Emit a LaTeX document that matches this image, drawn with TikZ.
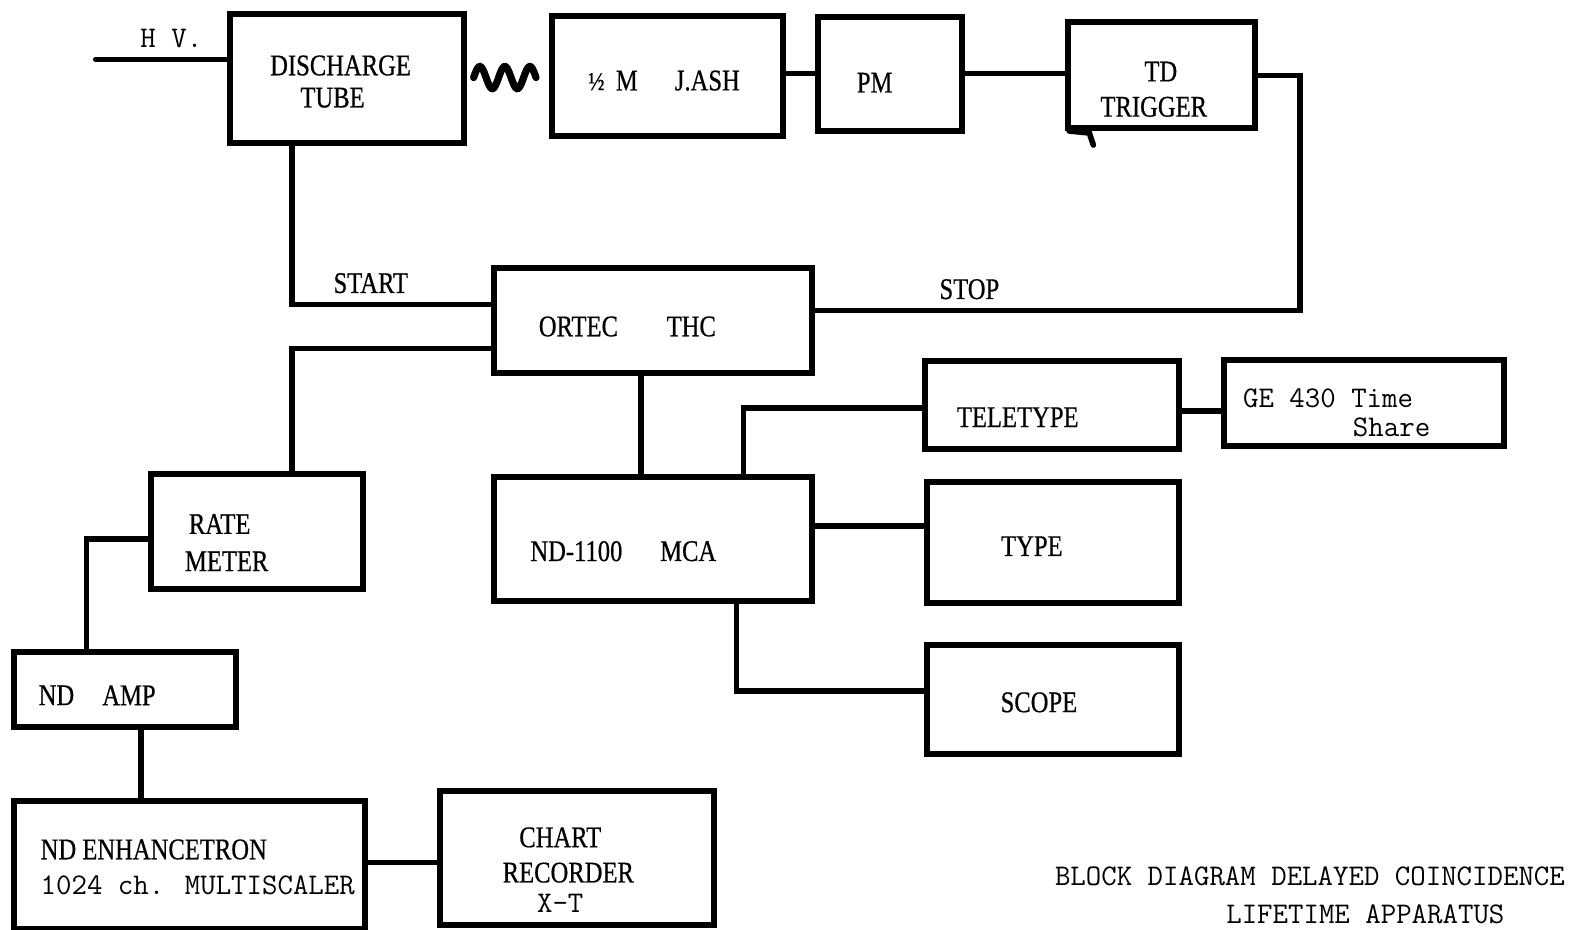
\documentclass[tikz,border=0pt]{standalone}
\usepackage{fontspec}
\newfontfamily\serf[FakeStretch=0.82,FakeBold=0.6]{Liberation Serif}
\newcommand\monof{\ttfamily\addfontfeatures{FakeBold=1.2}}
\usetikzlibrary{fit}
\tikzset{
  box/.style={draw, line width=3pt, inner sep=0pt, fit={#1}},
  wire/.style={line width=2.8pt},
  lab/.style={inner sep=0pt, font=\serf\fontsize{15}{18}\selectfont},
  tty/.style={inner sep=0pt, font=\monof\fontsize{15}{18}\selectfont},
}
\begin{document}
\begin{tikzpicture}[x=0.50383pt,y=-0.50383pt]
\useasboundingbox (0,0) rectangle (1568,922);
% boxes
\node[box={(228,14)(460,142)}] (dt) {};
\node[box={(548,16)(777,135)}] (jash) {};
\node[box={(812,17)(955,130)}] (pm) {};
\node[box={(1060,22)(1245,127)}] (td) {};
\node[box={(490,266)(806,370)}] (thc) {};
\node[box={(918,358)(1170,446)}] (tele) {};
\node[box={(1215,357)(1493,443)}] (ge) {};
\node[box={(490,473)(806,596)}] (mca) {};
\node[box={(920,478)(1170,598)}] (type) {};
\node[box={(920,640)(1170,748)}] (scope) {};
\node[box={(150,470)(360,585)}] (rate) {};
\node[box={(14,647)(234,721)}] (amp) {};
\node[box={(14,795)(362,922)}] (enh) {};
\node[box={(437,785)(709,918)}] (chart) {};
% texts
\node[lab] (t1) at (338,65) {DISCHARGE};
\node[lab] (t2) at (330,97) {TUBE};
\node[lab] (t3a) at (592,81) {\fontsize{13}{13}\selectfont ½};
\node[lab] (t3b) at (622,80) {M};
\node[lab] (t3c) at (702,80) {J.ASH};
\node[lab] (t4) at (868,82) {PM};
\node[lab] (t5) at (1152,71) {TD};
\node[lab] (t6) at (1145,106) {TRIGGER};
\node[lab] (t7) at (574,324) {ORTEC};
\node[lab] (t8) at (686,324) {THC};
\node[lab] (t9) at (1010,414) {TELETYPE};
\node[tty] (t10) at (1318,395) {GE 430 Time};
\node[tty] (t11) at (1381,424) {Share};
\node[lab] (t12) at (572,547) {ND-1100};
\node[lab] (t13) at (683,547) {MCA};
\node[lab] (t14) at (1024,542) {TYPE};
\node[lab] (t15) at (1031,697) {SCOPE};
\node[lab] (t16) at (218,520) {RATE};
\node[lab] (t17) at (225,557) {METER};
\node[lab] (t18) at (56,690) {ND};
\node[lab] (t19) at (128,690) {AMP};
\node[lab,anchor=west] (t20) at (40,843) {ND ENHANCETRON};
\node[tty,anchor=west] (t21) at (40,879) {1024 ch. MULTISCALER};
\node[lab] (t22) at (556,831) {CHART};
\node[lab] (t23) at (564,866) {RECORDER};
\node[tty] (t24) at (556,896) {X-T};
\node[tty] (hvl) at (170,38) {H V.};
\node[lab] (st) at (368,281) {START};
\node[lab] (sp) at (962,287) {STOP};
\node[tty] (ti1) at (1300,870) {BLOCK DIAGRAM DELAYED COINCIDENCE};
\node[tty] (ti2) at (1355,907) {LIFETIME APPARATUS};
% connectors
\coordinate (hv) at (95,59);
\draw[wire,line cap=round] (hv) -- (hv -| dt.west);
\draw[line width=3.6pt,line cap=round] plot[domain=0:1,samples=60] ({470+62*\x},{77-11*sin(900*\x)});
\coordinate (ya) at (0,73);
\draw[wire] (jash.east |- ya) -- (pm.west |- ya);
\draw[wire] (pm.east |- ya) -- (td.west |- ya);
\coordinate (ytd) at (0,75);
\coordinate (k1) at (1290,308);
\draw[wire] (td.east |- ytd) -| (k1) -- (k1 -| thc.east);
\draw[wire,line cap=round] (td.south west) ++(4,0) -- ++(20,2) -- ++(4,12);
\coordinate (k2) at (290,302);
\draw[wire] (dt.south -| k2) -- (k2) -- (k2 -| thc.west);
\coordinate (k3) at (290,346);
\draw[wire] (thc.west |- k3) -- (k3) -- (k3 |- rate.north);
\coordinate (k4) at (86,535);
\draw[wire] (rate.west |- k4) -- (k4) -- (k4 |- amp.north);
\coordinate (k5) at (140,0);
\draw[wire] (amp.south -| k5) -- (enh.north -| k5);
\coordinate (k6) at (0,856);
\draw[wire] (enh.east |- k6) -- (chart.west |- k6);
\coordinate (k7) at (636,0);
\draw[wire] (thc.south -| k7) -- (mca.north -| k7);
\coordinate (k8) at (738,405);
\draw[wire] (mca.north -| k8) -- (k8) -- (k8 -| tele.west);
\coordinate (k9) at (0,408);
\draw[wire] (tele.east |- k9) -- (ge.west |- k9);
\coordinate (k10) at (0,522);
\draw[wire] (mca.east |- k10) -- (type.west |- k10);
\coordinate (k11) at (731,686);
\draw[wire] (mca.south -| k11) -- (k11) -- (k11 -| scope.west);
\end{tikzpicture}
\end{document}
